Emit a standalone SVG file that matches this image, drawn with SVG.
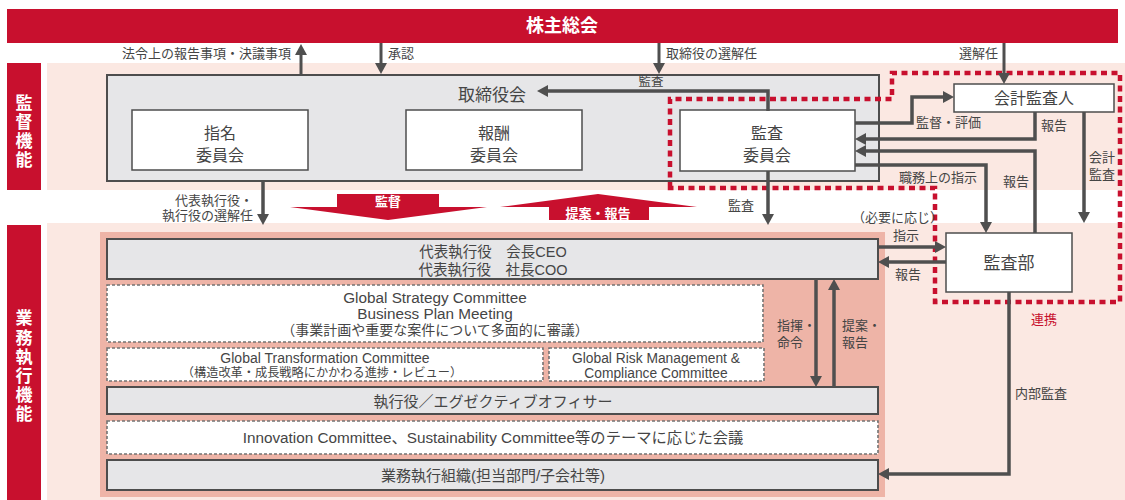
<svg xmlns="http://www.w3.org/2000/svg" width="1125" height="500" viewBox="0 0 1125 500">
<defs>
<style>
text{font-family:"Liberation Sans","Noto Sans CJK JP",sans-serif;fill:#454545;}
.c{text-anchor:middle;dominant-baseline:central;}
.s{text-anchor:start;dominant-baseline:central;}
.e{text-anchor:end;dominant-baseline:central;}
.lbl{font-size:13px;}
.wb{fill:#ffffff;font-weight:bold;}
.gbox{fill:#e6e6e8;stroke:#4d4d4d;stroke-width:2;}
.wbox{fill:#ffffff;stroke:#4d4d4d;stroke-width:1.5;}
.dbox{fill:#ffffff;stroke:#737373;stroke-width:1.6;stroke-dasharray:3 2;}
.red{fill:#c8102e;}
.conn{fill:none;stroke:#4f4f4f;stroke-width:3.5;marker-end:url(#ah);}
.conn2{fill:none;stroke:#4f4f4f;stroke-width:3;marker-end:url(#ah);}
</style>
<marker id="ah" viewBox="0 0 11 12" refX="7" refY="6" markerWidth="11" markerHeight="12" markerUnits="userSpaceOnUse" orient="auto"><path d="M0,0 L11,6 L0,12 z" fill="#4f4f4f"/></marker>
</defs>

<!-- backgrounds -->
<rect x="0" y="0" width="1125" height="500" fill="#ffffff"/>
<rect x="47" y="63" width="1078" height="127" fill="#fbe8e2"/>
<rect x="47" y="223" width="1078" height="277" fill="#fbe8e2"/>
<rect x="100" y="232" width="785" height="265" fill="#eeb4a7"/>

<g id="shareholders">
<rect class="red" x="7" y="9" width="1111" height="34"/>
<text class="c wb" x="562" y="26" font-size="18">株主総会</text>
</g>

<g id="label-supervision">
<rect class="red" x="7" y="63" width="34" height="127"/>
<text class="c wb" font-size="17" x="24" y="103">監</text>
<text class="c wb" font-size="17" x="24" y="122">督</text>
<text class="c wb" font-size="17" x="24" y="141">機</text>
<text class="c wb" font-size="17" x="24" y="160">能</text>
</g>

<g id="label-execution">
<rect class="red" x="7" y="225" width="34" height="275"/>
<text class="c wb" font-size="17" x="24" y="318">業</text>
<text class="c wb" font-size="17" x="24" y="338">務</text>
<text class="c wb" font-size="17" x="24" y="357">執</text>
<text class="c wb" font-size="17" x="24" y="376">行</text>
<text class="c wb" font-size="17" x="24" y="395">機</text>
<text class="c wb" font-size="17" x="24" y="414">能</text>
</g>

<g id="board">
<rect class="gbox" x="107" y="75" width="772" height="106" stroke-width="1.6"/>
<text class="c" x="492" y="95" font-size="17">取締役会</text>
</g>

<g id="nomination">
<rect class="wbox" x="132" y="110" width="176" height="60"/>
<text class="c" x="220" y="133" font-size="16">指名</text>
<text class="c" x="220" y="155" font-size="16">委員会</text>
</g>

<g id="compensation">
<rect class="wbox" x="406" y="110" width="176" height="60"/>
<text class="c" x="494" y="133" font-size="16">報酬</text>
<text class="c" x="494" y="155" font-size="16">委員会</text>
</g>

<g id="audit-committee">
<rect class="wbox" x="680" y="110" width="175" height="61"/>
<text class="c" x="767" y="133" font-size="16">監査</text>
<text class="c" x="767" y="155" font-size="16">委員会</text>
</g>

<g id="accounting-auditor">
<rect class="wbox" x="954" y="84" width="160" height="28"/>
<text class="c" x="1034" y="98" font-size="16">会計監査人</text>
</g>

<g id="audit-dept">
<rect class="wbox" x="946" y="233" width="126" height="59"/>
<text class="c" x="1009" y="263" font-size="17">監査部</text>
</g>

<g id="ceo">
<rect class="gbox" x="107" y="239" width="771" height="40"/>
<text class="c" x="493" y="252" font-size="14.5">代表執行役　会長CEO</text>
<text class="c" x="493" y="270" font-size="14.5">代表執行役　社長COO</text>
</g>

<g id="gsc">
<rect class="dbox" x="107" y="285" width="656" height="57"/>
<text class="c" x="435" y="297" font-size="15.3">Global Strategy Committee</text>
<text class="c" x="435" y="313" font-size="15.3">Business Plan Meeting</text>
<text class="c" x="435" y="330" font-size="14">（事業計画や重要な案件について多面的に審議）</text>
</g>

<g id="gtc">
<rect class="dbox" x="107" y="348" width="436" height="33"/>
<text class="c" x="325" y="358" font-size="14">Global Transformation Committee</text>
<text class="c" x="322" y="373" font-size="12.2">（構造改革・成長戦略にかかわる進捗・レビュー）</text>
</g>

<g id="grm">
<rect class="dbox" x="549" y="348" width="215" height="33"/>
<text class="c" x="656" y="358" font-size="13.8">Global Risk Management &amp;</text>
<text class="c" x="656" y="373" font-size="13.8">Compliance Committee</text>
</g>

<g id="officers">
<rect class="gbox" x="107" y="387" width="771" height="27"/>
<text class="c" x="493" y="401" font-size="15">執行役／エグゼクティブオフィサー</text>
</g>

<g id="theme-committees">
<rect class="dbox" x="107" y="421" width="771" height="33"/>
<text class="c" x="493" y="437" font-size="15.3">Innovation Committee、Sustainability Committee等のテーマに応じた会議</text>
</g>

<g id="business-org">
<rect class="gbox" x="107" y="460" width="771" height="30"/>
<text class="c" x="493" y="475" font-size="15">業務執行組織(担当部門/子会社等)</text>
</g>

<g id="audit-boundary">
<path d="M670,188 V99 H892 V73 H1120 V302 H935 V188 Z" fill="none" stroke="#c8102e" stroke-width="4.5" stroke-dasharray="6 4.5"/>
<text class="c" x="1044" y="319" font-size="13" style="fill:#c8102e">連携</text>
</g>

<g id="big-arrows">
<polygon class="red" points="290,207 337,207 337,194 439,194 439,207 487,207 388,220"/>
<text class="c wb" x="388" y="201" font-size="13">監督</text>
<polygon class="red" points="500,207 598,194 697,207 649,207 649,220 549,220 549,207"/>
<text class="c wb" x="598" y="213" font-size="13">提案・報告</text>
</g>

<g id="connectors">
<path class="conn2" d="M301,74 V48"/>
<path class="conn2" d="M381,43 V70"/>
<path class="conn2" d="M659,43 V70"/>
<path class="conn2" d="M1004,43 V80"/>
<path class="conn" d="M768,111 V91 H541"/>
<path class="conn" d="M855,123 H912 V97 H950"/>
<path class="conn" d="M1035,112 V139 H859"/>
<path class="conn" d="M1035,233 V151 H859"/>
<path class="conn" d="M855,165 H986 V229"/>
<path class="conn" d="M1084,112 V219"/>
<path class="conn" d="M263,181 V221"/>
<path class="conn" d="M768,171 V221"/>
<path class="conn" d="M878,247 H942"/>
<path class="conn" d="M946,262 H882"/>
<path class="conn" d="M816,279 V383"/>
<path class="conn" d="M834,387 V283"/>
<path class="conn" d="M1009,292 V474 H882"/>
</g>

<g id="connector-labels" class="lbl">
<text class="e" x="291" y="53">法令上の報告事項・決議事項</text>
<text class="s" x="388" y="53">承認</text>
<text class="s" x="666" y="53">取締役の選解任</text>
<text class="e" x="998" y="53">選解任</text>
<text class="c" x="651" y="82" font-size="12.5">監査</text>
<text class="s" x="916" y="122">監督・評価</text>
<text class="s" x="1041" y="125">報告</text>
<text class="s" x="899" y="177">職務上の指示</text>
<text class="s" x="1003" y="181">報告</text>
<text class="s" x="1089" y="157">会計</text>
<text class="s" x="1089" y="174">監査</text>
<text class="e" x="253" y="200">代表執行役・</text>
<text class="e" x="253" y="215">執行役の選解任</text>
<text class="s" x="728" y="205">監査</text>
<text class="s" x="852" y="217">（必要に応じ）</text>
<text class="s" x="893" y="235">指示</text>
<text class="s" x="895" y="274">報告</text>
<text class="s" x="1015" y="393">内部監査</text>
<text class="s" x="777" y="325">指揮・</text>
<text class="s" x="777" y="342">命令</text>
<text class="s" x="842" y="325">提案・</text>
<text class="s" x="842" y="342">報告</text>
</g>
</svg>
